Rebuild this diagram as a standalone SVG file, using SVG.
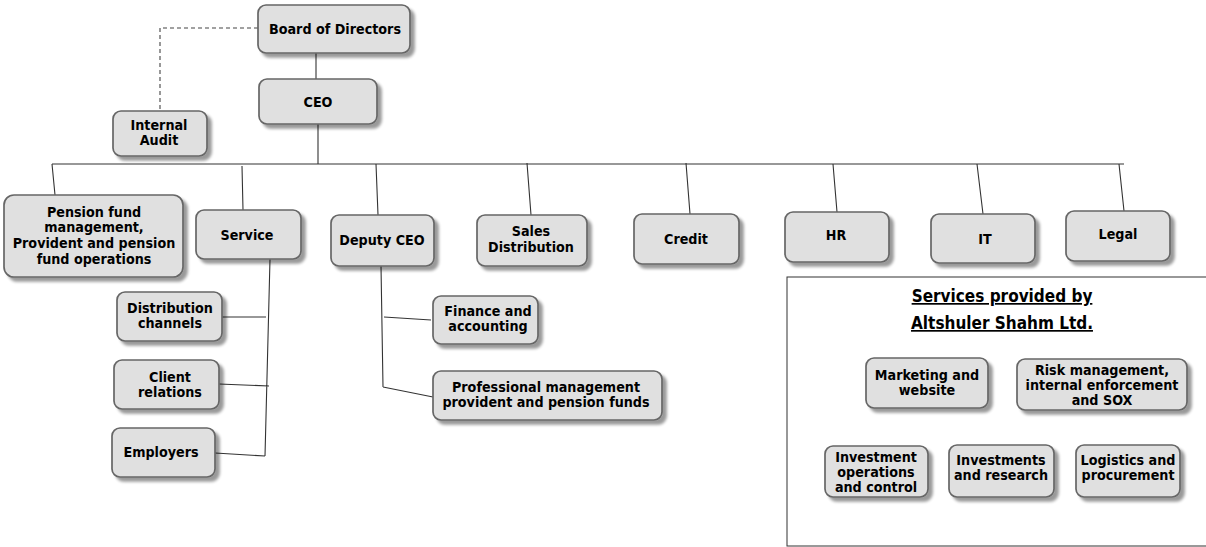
<svg xmlns="http://www.w3.org/2000/svg" width="1206" height="547" viewBox="0 0 1206 547">
<defs>
<filter id="sh" x="-10%" y="-10%" width="130%" height="140%">
<feGaussianBlur in="SourceAlpha" stdDeviation="1.5"/>
<feOffset dx="4" dy="4" result="b"/>
<feComponentTransfer><feFuncA type="linear" slope="0.4"/></feComponentTransfer>
<feMerge><feMergeNode/><feMergeNode in="SourceGraphic"/></feMerge>
</filter>
<style>
.b{fill:#e0e0e0;stroke:#666;stroke-width:1.7;filter:url(#sh)}
.t{font-family:"DejaVu Sans Condensed","DejaVu Sans",sans-serif;font-weight:bold;font-size:14.2px;fill:#000;text-anchor:middle}
.c{fill:none;stroke:#333;stroke-width:1.1}
.d{fill:none;stroke:#444;stroke-width:1.1;stroke-dasharray:4 3}
.h{font-family:"DejaVu Sans Condensed","DejaVu Sans",sans-serif;font-weight:bold;font-size:17px;fill:#000;text-anchor:middle;text-decoration:underline}
</style>
</defs>
<rect width="1206" height="547" fill="#fff"/>
<g id="connectors">
<path class="d" d="M258 28 H160 V110"/>
<path class="c" d="M316 53 V79"/>
<path class="c" d="M318 124 V164 M52 164 H1124"/>
<path class="c" d="M52 164 L55 195 M242 166 L243 210 M376 164 L378 215 M527 163 L531 215 M686 163 L690 214 M833 164 L837 212 M977 164 L983 214 M1119 164 L1124 211"/>
<path class="c" d="M270 259 L265 456 M222 317 H266 M219 384 L269 386 M215 453 L265 456"/>
<path class="c" d="M381 266 L383 387 M384 317 L431 320 M383 387 L433 397"/>
</g>
<g id="board"><rect class="b" x="258" y="5" width="152" height="48" rx="8"/><text class="t" x="335" y="34">Board of Directors</text></g>
<g id="ceo"><rect class="b" x="259" y="79" width="118" height="45" rx="8"/><text class="t" x="318" y="107">CEO</text></g>
<g id="audit"><rect class="b" x="113" y="111" width="94" height="45" rx="8"/><text class="t" x="159" y="130">Internal</text><text class="t" x="159" y="145">Audit</text></g>
<g id="pension"><rect class="b" x="4" y="195" width="179" height="82" rx="10"/><text class="t" x="94" y="217">Pension fund</text><text class="t" x="94" y="232">management,</text><text class="t" x="94" y="248">Provident and pension</text><text class="t" x="94" y="264">fund operations</text></g>
<g id="service"><rect class="b" x="196" y="210" width="105" height="49" rx="8"/><text class="t" x="247" y="240">Service</text></g>
<g id="deputy"><rect class="b" x="331" y="215" width="103" height="51" rx="8"/><text class="t" x="382" y="245">Deputy CEO</text></g>
<g id="sales"><rect class="b" x="477" y="215" width="110" height="51" rx="8"/><text class="t" x="531" y="236">Sales</text><text class="t" x="531" y="252">Distribution</text></g>
<g id="credit"><rect class="b" x="634" y="214" width="105" height="50" rx="8"/><text class="t" x="686" y="244">Credit</text></g>
<g id="hr"><rect class="b" x="785" y="212" width="104" height="50" rx="8"/><text class="t" x="836" y="240">HR</text></g>
<g id="it"><rect class="b" x="931" y="214" width="104" height="49" rx="8"/><text class="t" x="985" y="244">IT</text></g>
<g id="legal"><rect class="b" x="1066" y="211" width="104" height="50" rx="8"/><text class="t" x="1118" y="239">Legal</text></g>
<g id="distribution"><rect class="b" x="117" y="292" width="105" height="49" rx="8"/><text class="t" x="170" y="313">Distribution</text><text class="t" x="170" y="328">channels</text></g>
<g id="client"><rect class="b" x="114" y="360" width="105" height="49" rx="8"/><text class="t" x="170" y="382">Client</text><text class="t" x="170" y="397">relations</text></g>
<g id="employers"><rect class="b" x="112" y="428" width="103" height="49" rx="8"/><text class="t" x="161" y="457">Employers</text></g>
<g id="finance"><rect class="b" x="433" y="296" width="105" height="48" rx="8"/><text class="t" x="488" y="316">Finance and</text><text class="t" x="488" y="331">accounting</text></g>
<g id="professional"><rect class="b" x="433" y="371" width="229" height="49" rx="8"/><text class="t" x="546" y="392">Professional management</text><text class="t" x="546" y="407">provident and pension funds</text></g>
<g id="services">
<rect x="787" y="277" width="425" height="269" fill="none" stroke="#333" stroke-width="1"/>
<text class="h" x="1002" y="302">Services provided by </text>
<text class="h" x="1002" y="329">Altshuler Shahm Ltd.</text>
</g>
<g id="marketing"><rect class="b" x="866" y="358" width="122" height="50" rx="8"/><text class="t" x="927" y="380">Marketing and</text><text class="t" x="927" y="395">website</text></g>
<g id="risk"><rect class="b" x="1017" y="359" width="170" height="51" rx="8"/><text class="t" x="1102" y="375">Risk management,</text><text class="t" x="1102" y="390">internal enforcement</text><text class="t" x="1102" y="405">and SOX</text></g>
<g id="invops"><rect class="b" x="825" y="446" width="103" height="51" rx="8"/><text class="t" x="876" y="462">Investment</text><text class="t" x="876" y="477">operations</text><text class="t" x="876" y="492">and control</text></g>
<g id="invres"><rect class="b" x="949" y="445" width="105" height="52" rx="8"/><text class="t" x="1001" y="465">Investments</text><text class="t" x="1001" y="480">and research</text></g>
<g id="logistics"><rect class="b" x="1076" y="445" width="104" height="52" rx="8"/><text class="t" x="1128" y="465">Logistics and</text><text class="t" x="1128" y="480">procurement</text></g>
</svg>
